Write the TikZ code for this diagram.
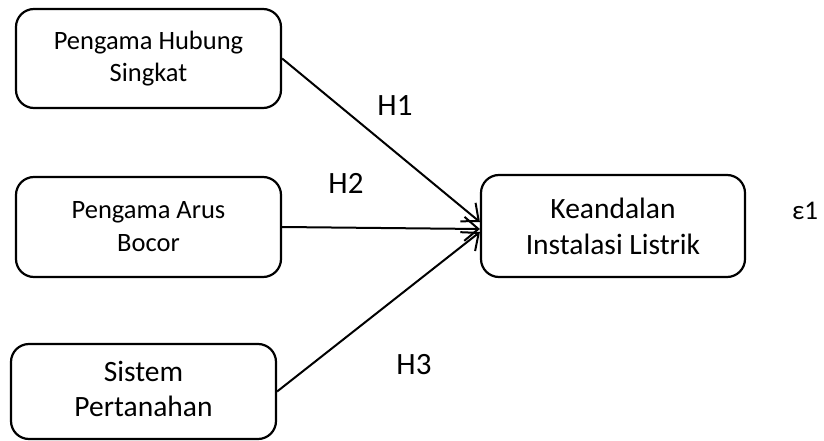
\documentclass[tikz,border=0pt]{standalone}
\usepackage{fontspec}
\setmainfont{Carlito}
\usetikzlibrary{arrows.meta}
\begin{document}
\begin{tikzpicture}[x=1pt,y=-1pt,
  varbox/.style={draw=black, line width=2.2pt, rounded corners=18pt, align=center, inner sep=0pt},
  hlabel/.style={font=\fontsize{31}{34}\selectfont, inner sep=0pt},
  link/.style={line width=2pt, -{Straight Barb[length=14pt,width=24pt,line width=2pt]}}]
\useasboundingbox (0,0) rectangle (824,441);
\node[varbox, font=\fontsize{26.5}{32}\selectfont, minimum width=265pt, minimum height=99pt] (b1) at (148.5,58.5) {Pengama Hubung\\Singkat};
\node[varbox, font=\fontsize{26.5}{33}\selectfont, minimum width=265pt, minimum height=100pt] (b2) at (148.5,227) {Pengama Arus\\Bocor};
\node[varbox, font=\fontsize{29.5}{35}\selectfont, minimum width=265pt, minimum height=95pt] (b3) at (143.5,391.5) {\raisebox{-7pt}{\begin{tabular}{@{}c@{}}Sistem\\Pertanahan\end{tabular}}};
\node[varbox, font=\fontsize{29.5}{36}\selectfont, minimum width=264pt, minimum height=102pt] (k) at (613,226) {Keandalan\\Instalasi Listrik};
\node[hlabel] (h1) at (395,106) {H1};
\node[hlabel] (h2) at (346,183) {H2};
\node[hlabel] (h3) at (414,365) {H3};
\node[font=\fontsize{27}{30}\selectfont, inner sep=0pt] (e1) at (805,211) {ε1};
\draw[link] (b1.east) -- ([yshift=4pt]k.west);
\draw[link] (b2.east) -- ([yshift=-3pt]k.west);
\draw[link] (b3.east) -- ([yshift=-6pt]k.west);
\end{tikzpicture}
\end{document}
